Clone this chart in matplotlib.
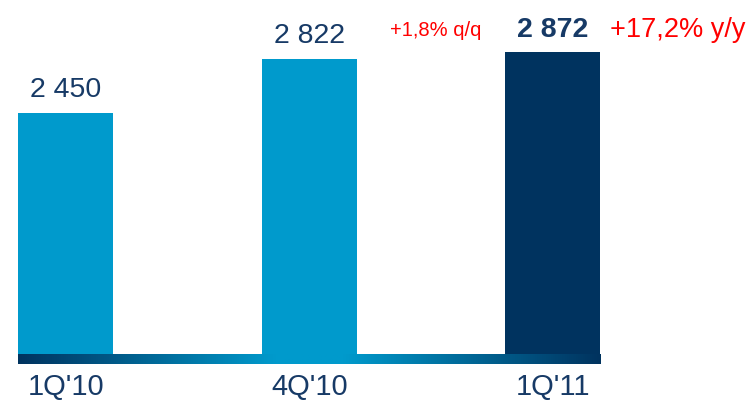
import numpy as np
import matplotlib
matplotlib.use("Agg")
import matplotlib.pyplot as plt
from matplotlib.colors import LinearSegmentedColormap

# Quarterly values
categories = ["1Q'10", "4Q'10", "1Q'11"]
values = [2450, 2822, 2872]
highlight = [False, False, True]
change_qq = "+1,8% q/q"
change_yy = "+17,2% y/y"

LIGHT = "#009ACC"
DARK = "#00335F"
TEXT = "#173A66"
RED = "#FF0000"

plt.rcParams["font.family"] = ["Liberation Sans", "DejaVu Sans"]

W, H = 749, 402
fig = plt.figure(figsize=(W / 100, H / 100), dpi=100)

# main axes: bottom edge sits on the gradient base line
base_px = 355
ax = fig.add_axes([0, (H - base_px) / H, 1, base_px / H])
ax.set_ylim(800, 3233)
ax.set_xlim(-0.271, 2.807)

x = np.arange(len(categories))
colors = [DARK if h else LIGHT for h in highlight]
bars = ax.bar(x, values, width=0.39, color=colors, bottom=0, zorder=2)

for xi, v, h in zip(x, values, highlight):
    label = f"{v:,}".replace(",", " ")
    ax.annotate(label, (xi, v), xytext=(0, 12.5 if not h else 11.5),
                textcoords="offset points", ha="center", va="baseline",
                fontsize=20.5, color=TEXT,
                fontweight="bold" if h else "normal")

ax.annotate(change_qq, (x[-1], values[-1]), xytext=(-84, 12),
            textcoords="offset points", ha="center", va="baseline",
            fontsize=14.5, color=RED)
ax.annotate(change_yy, (x[-1], values[-1]), xytext=(90, 11.5),
            textcoords="offset points", ha="center", va="baseline",
            fontsize=19.5, color=RED)

ax.set_xticks(x)
ax.set_xticklabels(categories, fontsize=21, color=TEXT)
ax.tick_params(axis="x", length=0, pad=13)
ax.set_yticks([])
for s in ax.spines.values():
    s.set_visible(False)
ax.patch.set_alpha(0)

# gradient base line under the bars
gax = fig.add_axes([18 / W, (H - 365) / H, 583 / W, 10 / H])
cmap = LinearSegmentedColormap.from_list(
    "base", [(0, DARK), (0.44, LIGHT), (0.56, LIGHT), (1, DARK)])
grad = np.linspace(0, 1, 512)[None, :]
gax.imshow(grad, aspect="auto", cmap=cmap, extent=(0, 1, 0, 1))
gax.set_axis_off()

fig.savefig("out.png", dpi=100)
